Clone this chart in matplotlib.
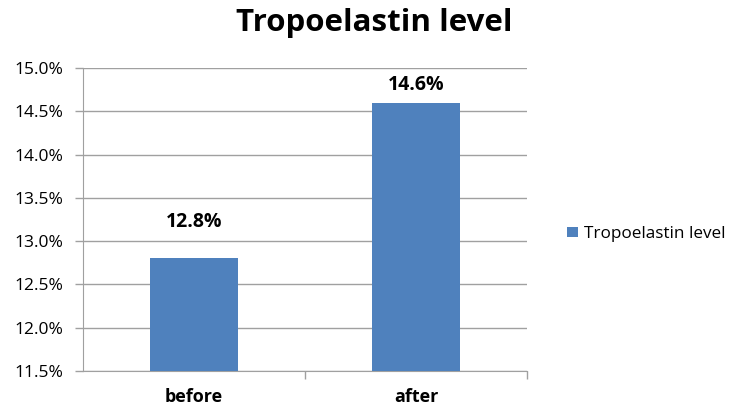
import numpy as np
import matplotlib.pyplot as plt
from matplotlib.ticker import FuncFormatter

# Chart data
categories = ['before', 'after']
values = [12.8, 14.6]
series_name = 'Tropoelastin level'
yticks = [11.5, 12.0, 12.5, 13.0, 13.5, 14.0, 14.5, 15.0]

plt.rcParams['font.family'] = ['Open Sans', 'DejaVu Sans']

fig = plt.figure(figsize=(7.34, 4.11), dpi=100)
ax = fig.add_axes([83/734, 1 - 371/411, 444/734, 303/411])

x = np.arange(len(categories))
bars = ax.bar(x, values, width=0.4, color='#4F81BD', label=series_name, zorder=3)

ax.set_xlim(-0.5, len(categories) - 0.5)
ax.set_ylim(11.5, 15.0)
ax.set_yticks(yticks)
ax.yaxis.set_major_formatter(FuncFormatter(lambda v, p: '%.1f%%' % v))
ax.tick_params(axis='y', labelsize=12.5, length=6, color='#A0A0A0', width=1, pad=8)
ax.grid(axis='y', color='#A0A0A0', linewidth=1, zorder=0)

ax.set_xticks(x)
ax.set_xticklabels(categories, fontsize=13, fontweight='bold')
ax.tick_params(axis='x', length=0, pad=12)
# category boundary ticks
ax.set_xticks([0.5, 1.5], minor=True)
ax.tick_params(axis='x', which='minor', length=6, color='#A0A0A0', width=1)

for s in ['top', 'right']:
    ax.spines[s].set_visible(False)
for s in ['left', 'bottom']:
    ax.spines[s].set_color('#A0A0A0')

# label offsets above bar tops (the first label sits higher)
for xi, v, off in zip(x, values, [0.42, 0.20]):
    ax.text(xi, v + off, '%.1f%%' % v, ha='center', va='center',
            fontsize=14, fontweight='bold')

fig.text(374/734, 1 - 23/411, 'Tropoelastin level', ha='center', va='center',
         fontsize=22.5, fontweight='bold')

fig.legend(handles=[bars], labels=[series_name], loc='center left',
           bbox_to_anchor=(552/734, 1 - 234/411), frameon=False, fontsize=12.3,
           handlelength=0.6, handleheight=0.6, handletextpad=0.4)

fig.savefig('out.png', dpi=100)
